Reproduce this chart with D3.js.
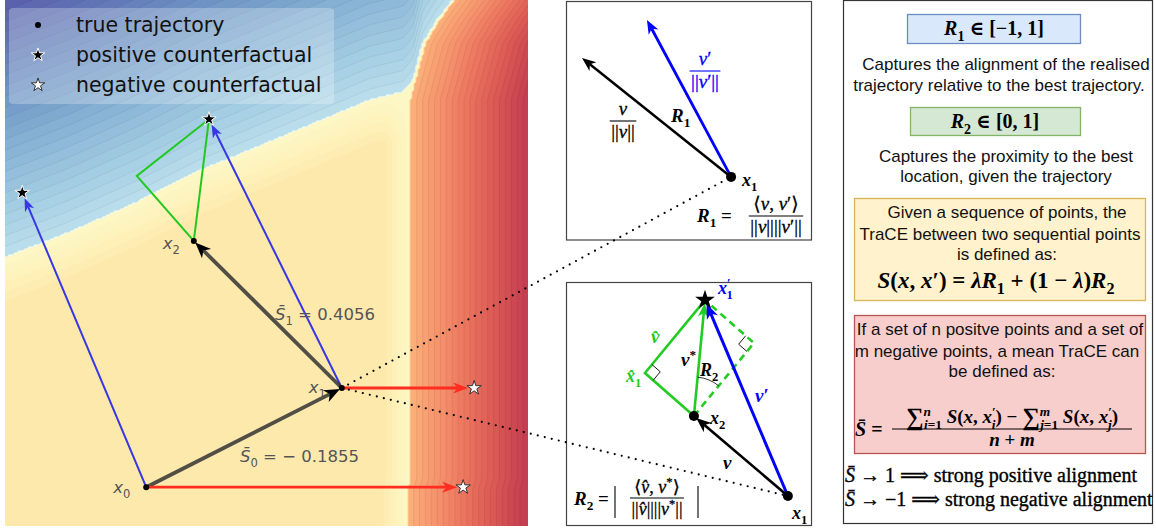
<!DOCTYPE html>
<html>
<head>
<meta charset="utf-8">
<script src="https://cdn.jsdelivr.net/npm/d3@7"></script>
<style>
  body { margin: 0; background: #fff; }
  svg { display: block; }
</style>
</head>
<body>
<svg width="1156" height="528"></svg>
<script>
// ---- data (left panel, data units 0..10) ----
var trajectory = [[2.70, 0.72], [6.44, 2.61], [3.61, 5.41]];
var trajectoryNames = ["0", "1", "2"];
var positiveCF = [[0.33, 6.33], [3.90, 7.73]];
var negativeCF = [[8.76, 0.72], [8.97, 2.61]];
var projection = [2.52, 6.65];
var meanTrace = [-0.1855, 0.4056];
var legendItems = ["true trajectory", "positive counterfactual", "negative counterfactual"];

// decision regions of the background (blue edge: [x, y], red edge: [y, x])
var blueEdge = [[0, 5.10], [1.19, 5.56], [2.52, 6.15], [3.73, 6.76], [4.36, 7.01], [6.50, 7.90],
                [6.98, 8.10], [7.61, 8.25], [7.80, 8.48], [7.99, 9.18], [8.26, 9.62], [8.55, 10.0]];
var redEdge = [[-0.1, 7.70], [0.67, 7.70], [0.90, 7.76], [8.10, 7.76], [8.25, 7.80],
               [8.48, 7.86], [9.18, 8.05], [9.62, 8.32], [10.0, 8.60]];

// ---- data (zoomed insets, units 0..10) ----
var topX1 = [6.71, 2.64];
var topV = [0.65, 7.62];
var topVPrime = [3.29, 9.21];
var botX1 = [9.02, 1.23];
var botX2 = [5.20, 4.51];
var botStar = [5.65, 9.26];
var botHat = [3.21, 6.27];

// ---- text of the right panel ----
var r1Lines = ["Captures the alignment of the realised", "trajectory relative to the best trajectory."];
var r2Lines = ["Captures the proximity to the best", "location, given the trajectory"];
var traceLines = ["Given a sequence of points, the", "TraCE between two sequential points", "is defined as:"];
var meanLines = ["If a set of n positve points and a set of", "m negative points, a mean TraCE can", "be defined as:"];

var serif = "'Liberation Serif', 'DejaVu Serif', serif";
var sans = "'Liberation Sans', Arial, sans-serif";
var mpl = "'DejaVu Sans', sans-serif";
var NORM = "||";

var svg = d3.select("svg");

var x = d3.scaleLinear().domain([0, 10]).range([5, 528]);
var y = d3.scaleLinear().domain([0, 10]).range([525, 0]);

var blueY = d3.scaleLinear().domain(blueEdge.map(d => d[0])).range(blueEdge.map(d => d[1])).clamp(true);
var redX = d3.scaleLinear().domain(redEdge.map(d => d[0])).range(redEdge.map(d => d[1])).clamp(true);

function field(dx, dy) {
  var xr = redX(dy);
  if (dx >= xr) return 0.45 + 0.5 * Math.min(1, (dx - xr) / 2.26);
  var yb = blueY(dx);
  if (dy >= yb) return -0.4 - 0.6 * Math.min(1, (dy - yb) / 4.9);
  var w = Math.min(1, (yb - dy) / 0.9) * Math.min(1, (xr - dx) / 0.5);
  return 0.03 + 0.13 * w;
}

// math text helper: parts = [text, kind, dx]; kind: i italic, s sub, p sup, L large
function mt(g, x0, y0, parts, o) {
  var t = g.append("text").attr("x", x0).attr("y", y0)
    .attr("font-family", o.font || serif).attr("font-size", o.size)
    .attr("fill", o.color || "#000").attr("text-anchor", o.anchor || "start");
  if (o.bold) t.attr("font-weight", "bold");
  if (o.heavy) t.attr("stroke", o.color || "#000").attr("stroke-width", o.heavy);
  var cur = 0;
  parts.forEach(function(p) {
    var k = p[1] || "", off = 0, fs = o.size;
    if (k.indexOf("s") >= 0) { off = o.size * 0.28; fs = o.size * 0.7; }
    if (k.indexOf("p") >= 0) { off = -o.size * 0.38; fs = o.size * 0.7; }
    if (k.indexOf("L") >= 0) { off = o.size * 0.08; fs = o.size * 1.3; }
    var s = t.append("tspan").text(p[0]).attr("dy", off - cur).attr("font-size", fs);
    if (p[2]) s.attr("dx", p[2]);
    if (k.indexOf("i") >= 0) s.attr("font-style", "italic");
    cur = off;
  });
  return t;
}

function frac(g, cx, yBar, num, den, o) {
  var oo = Object.assign({}, o, {anchor: "middle"});
  var a = mt(g, cx, yBar - o.size * 0.3, num, oo);
  var b = mt(g, cx, yBar + o.size * 0.92, den, oo);
  var w = Math.max(a.node().getComputedTextLength(), b.node().getComputedTextLength()) + 3;
  g.append("line").attr("x1", cx - w / 2).attr("x2", cx + w / 2)
    .attr("y1", yBar).attr("y2", yBar).attr("stroke", o.color || "#000").attr("stroke-width", 1.1);
}

function arrow(g, a, b, o) {
  var dx = b[0] - a[0], dy = b[1] - a[1], len = Math.hypot(dx, dy);
  var ux = dx / len, uy = dy / len, px = -uy, py = ux;
  var tip = [b[0] - ux * o.shrink, b[1] - uy * o.shrink];
  var L = o.head, W = o.width / 2;
  var notch = [tip[0] - ux * L * 0.72, tip[1] - uy * L * 0.72];
  g.append("line").attr("x1", a[0]).attr("y1", a[1]).attr("x2", notch[0]).attr("y2", notch[1])
    .attr("stroke", o.color).attr("stroke-width", o.lw).attr("stroke-opacity", o.op || 1);
  var pts = [tip, [tip[0] - ux * L + px * W, tip[1] - uy * L + py * W], notch,
             [tip[0] - ux * L - px * W, tip[1] - uy * L - py * W]];
  g.append("path").attr("d", "M" + pts.join("L") + "Z").attr("fill", o.headColor || o.color);
}

// ---------------- left panel ----------------
svg.append("defs").append("clipPath").attr("id", "clipL")
  .append("rect").attr("x", 5).attr("y", 0).attr("width", 523).attr("height", 526);

var gL = svg.append("g").attr("clip-path", "url(#clipL)");

var cell = 2, nx = 264, ny = 266;
var values = new Array(nx * ny);
for (var j = 0; j < ny; j++)
  for (var i = 0; i < nx; i++)
    values[j * nx + i] = field(x.invert(5 + i * cell), y.invert(j * cell));

var step = 0.025;
var thresholds = d3.range(-1, 1, step);
var contours = d3.contours().size([nx, ny]).thresholds(thresholds)(values);
var color = t => d3.interpolateRgb("#fff", d3.interpolateRdYlBu((1 - t) / 2))(0.8);
var path = d3.geoPath(d3.geoIdentity().scale(cell).translate([5 - cell / 2, -cell / 2]));
function showLine(t) { return t < -0.41 || t > 0.46; }

gL.selectAll("path.band").data(contours).join("path")
  .attr("class", "band")
  .attr("d", path)
  .attr("fill", d => color(d.value + step / 2))
  .attr("stroke", d => showLine(d.value) ? d3.color(color(d.value + step / 2)).darker(0.3) : "none")
  .attr("stroke-width", 0.6);

// legend
var leg = svg.append("g");
leg.append("rect").attr("x", 9).attr("y", 8).attr("width", 325).attr("height", 96).attr("rx", 4)
  .attr("fill", "#fff").attr("fill-opacity", 0.25);
legendItems.forEach(function(t, k) {
  leg.append("text").attr("x", 76).attr("y", 32 + 30 * k).attr("font-family", mpl)
    .attr("font-size", 20.5).attr("fill", "#111").text(t);
});
leg.append("circle").attr("cx", 38).attr("cy", 25).attr("r", 3).attr("fill", "#000");
leg.append("path").attr("d", d3.symbol(d3.symbolStar, 56)()).attr("transform", "translate(38,55)")
  .attr("fill", "#000").attr("stroke", "#fff").attr("stroke-width", 1);
leg.append("path").attr("d", d3.symbol(d3.symbolStar, 56)()).attr("transform", "translate(38,85)")
  .attr("fill", "#fff").attr("stroke", "#333").attr("stroke-width", 1);

var P = d => [x(d[0]), y(d[1])];
var gV = svg.append("g");

// counterfactual directions (blue)
positiveCF.forEach(function(p, k) {
  arrow(gV, P(trajectory[k]), P(p), {shrink: 6, head: 13, width: 10, color: "#3737e6", lw: 2});
});
// projection triangle (green)
gV.append("path")
  .attr("d", "M" + [P(trajectory[2]), P(positiveCF[1]), P(projection)].join("L") + "Z")
  .attr("fill", "none").attr("stroke", "#22c922").attr("stroke-width", 2);
// true trajectory steps
for (var k = 0; k < trajectory.length - 1; k++) {
  arrow(gV, P(trajectory[k]), P(trajectory[k + 1]), {shrink: 2, head: 16, width: 13,
    color: "#333", headColor: "#000", lw: 3.8, op: 0.85});
}
// negative counterfactuals (red)
negativeCF.forEach(function(p, k) {
  arrow(gV, P(trajectory[k]), P(p), {shrink: 6, head: 15, width: 11, color: "#ff2d1f", lw: 2.8});
});
gV.selectAll("circle.pt").data(trajectory).join("circle").attr("class", "pt")
  .attr("cx", d => x(d[0])).attr("cy", d => y(d[1])).attr("r", 3).attr("fill", "#000");
gV.selectAll("path.pos").data(positiveCF).join("path").attr("class", "pos")
  .attr("d", d3.symbol(d3.symbolStar, 64)())
  .attr("transform", d => "translate(" + P(d) + ")")
  .attr("fill", "#000").attr("stroke", "#fff").attr("stroke-width", 1);
gV.selectAll("path.neg").data(negativeCF).join("path").attr("class", "neg")
  .attr("d", d3.symbol(d3.symbolStar, 64)())
  .attr("transform", d => "translate(" + P(d) + ")")
  .attr("fill", "#fff").attr("stroke", "#333").attr("stroke-width", 1);

// point labels
var labelOffsets = [[-33, 6], [-33, 5], [-31, 8]];
trajectory.forEach(function(d, k) {
  mt(gV, x(d[0]) + labelOffsets[k][0], y(d[1]) + labelOffsets[k][1],
     [["x", "i"], [trajectoryNames[k], "s"]], {font: mpl, size: 16.5, color: "#555"});
});
var fmt = v => (v < 0 ? "\u2212 " : "") + Math.abs(v).toFixed(4);
mt(gV, 240, 462, [["S\u0304", "i"], ["0", "s"], [" = " + fmt(meanTrace[0]), ""]], {font: mpl, size: 16.5, color: "#555"});
mt(gV, 275, 320, [["S\u0304", "i"], ["1", "s"], [" = " + fmt(meanTrace[1]), ""]], {font: mpl, size: 16.5, color: "#555"});

// ---------------- insets ----------------
var ix = d3.scaleLinear().domain([0, 10]).range([566, 812]);
var iyT = d3.scaleLinear().domain([0, 10]).range([240, 1]);
var iyB = d3.scaleLinear().domain([0, 10]).range([526, 282]);
var PT = d => [ix(d[0]), iyT(d[1])];
var PB = d => [ix(d[0]), iyB(d[1])];

var gI = svg.append("g");
gI.append("rect").attr("x", 566.5).attr("y", 1.5).attr("width", 245).attr("height", 238.5)
  .attr("fill", "none").attr("stroke", "#444").attr("stroke-width", 1.2);
gI.append("rect").attr("x", 566.5).attr("y", 282.5).attr("width", 245).attr("height", 243)
  .attr("fill", "none").attr("stroke", "#444").attr("stroke-width", 1.2);

// dotted links from x1
[PT(topX1), PB(botX1)].forEach(function(q) {
  gI.append("line").attr("x1", x(trajectory[1][0])).attr("y1", y(trajectory[1][1]))
    .attr("x2", q[0]).attr("y2", q[1]).attr("stroke", "#000").attr("stroke-width", 2.2)
    .attr("stroke-linecap", "round").attr("stroke-dasharray", "0 7.2");
});

// top inset: R1
arrow(gI, PT(topX1), PT(topV), {shrink: 0, head: 14, width: 11, color: "#000", lw: 2.5});
arrow(gI, PT(topX1), PT(topVPrime), {shrink: 0, head: 14, width: 11, color: "#0000ff", lw: 2.8});
gI.append("circle").attr("cx", PT(topX1)[0]).attr("cy", PT(topX1)[1]).attr("r", 5).attr("fill", "#000");
var io = {size: 19, heavy: 0.3};
frac(gI, 623, 121, [["v", "i"]], [[NORM, ""], ["v", "i"], [NORM, ""]], io);
frac(gI, 705, 71, [["v", "i"], ["\u2032", ""]], [[NORM, ""], ["v", "i"], ["\u2032" + NORM, ""]], {size: 19, heavy: 0.3, color: "#0000ff"});
mt(gI, 671, 122, [["R", "i"], ["1", "s"]], {size: 19, bold: true});
mt(gI, 742, 186, [["x", "i"], ["1", "s"]], {size: 18, bold: true});
mt(gI, 697, 222, [["R", "i"], ["1", "s"], [" =", ""]], {size: 19, bold: true});
frac(gI, 776, 216, [["\u27e8", ""], ["v", "i"], [", ", ""], ["v", "i"], ["\u2032\u27e9", ""]],
     [[NORM, ""], ["v", "i"], [NORM + NORM, ""], ["v", "i"], ["\u2032" + NORM, ""]], io);

// bottom inset: R2
var x1b = PB(botX1), x2b = PB(botX2), stb = PB(botStar), hb = PB(botHat);
var corner = [x2b[0] + stb[0] - hb[0], x2b[1] + stb[1] - hb[1]];
function unit(a, b) { var dx = b[0] - a[0], dy = b[1] - a[1], l = Math.hypot(dx, dy); return [dx / l, dy / l]; }
function rightAngle(c, a, b, s) {
  var u = unit(c, a), v = unit(c, b);
  gI.append("path").attr("d", "M" + [c[0] + u[0] * s, c[1] + u[1] * s] + "L" +
      [c[0] + (u[0] + v[0]) * s, c[1] + (u[1] + v[1]) * s] + "L" + [c[0] + v[0] * s, c[1] + v[1] * s])
    .attr("fill", "none").attr("stroke", "#000").attr("stroke-width", 0.9);
}
gI.append("path").attr("d", "M" + [x2b, corner, stb].join("L"))
  .attr("fill", "none").attr("stroke", "#22cc22").attr("stroke-width", 2.6).attr("stroke-dasharray", "7 5");
gI.append("path").attr("d", "M" + [x2b, hb, stb].join("L"))
  .attr("fill", "none").attr("stroke", "#22cc22").attr("stroke-width", 2.6);
rightAngle(hb, x2b, stb, 11);
rightAngle(corner, x2b, stb, 11);
arrow(gI, x2b, stb, {shrink: 3, head: 14, width: 11, color: "#22cc22", lw: 2.6});
arrow(gI, x1b, stb, {shrink: 4, head: 15, width: 12, color: "#0000ff", lw: 3});
arrow(gI, x1b, x2b, {shrink: 3, head: 15, width: 12, color: "#000", lw: 2.6});
// angle arc
(function() {
  var r = 39, u = unit(x2b, stb), v = unit(x2b, corner);
  gI.append("path").attr("d", "M" + [x2b[0] + u[0] * r, x2b[1] + u[1] * r] + "A" + r + "," + r +
      " 0 0 1 " + [x2b[0] + v[0] * r, x2b[1] + v[1] * r])
    .attr("fill", "none").attr("stroke", "#000").attr("stroke-width", 0.8);
})();
gI.append("circle").attr("cx", x1b[0]).attr("cy", x1b[1]).attr("r", 5).attr("fill", "#000");
gI.append("circle").attr("cx", x2b[0]).attr("cy", x2b[1]).attr("r", 5).attr("fill", "#000");
gI.append("path").attr("d", d3.symbol(d3.symbolStar, 120)())
  .attr("transform", "translate(" + stb + ")").attr("fill", "#000");

mt(gI, 718, 294, [["x", "i"], ["\u2032", "p"], ["1", "s", -4]], {size: 18, bold: true, color: "#0000ff"});
mt(gI, 651, 343, [["v\u0302", "i"]], {size: 19, bold: true, color: "#22c922"});
mt(gI, 626, 382, [["x\u0302", "i"], ["1", "s"]], {size: 18, bold: true, color: "#22c922"});
mt(gI, 681, 366, [["v", "i"], ["*", "p"]], {size: 19, bold: true});
mt(gI, 700, 376, [["R", "i"], ["2", "s"]], {size: 18, bold: true});
mt(gI, 755, 402, [["v", "i"], ["\u2032", ""]], {size: 19, bold: true, color: "#0000ff"});
mt(gI, 710, 424, [["x", "i"], ["2", "s"]], {size: 18, bold: true});
mt(gI, 723, 469, [["v", "i"]], {size: 19, bold: true});
mt(gI, 792, 519, [["x", "i"], ["1", "s"]], {size: 18, bold: true});
mt(gI, 574, 505, [["R", "i"], ["2", "s"], [" =", ""]], {size: 19, bold: true});
[615, 698].forEach(function(bx) {
  gI.append("line").attr("x1", bx).attr("x2", bx).attr("y1", 486).attr("y2", 518)
    .attr("stroke", "#000").attr("stroke-width", 1.1);
});
frac(gI, 657, 498, [["\u27e8", ""], ["v\u0302", "i"], [", ", ""], ["v", "i"], ["*", "p"], ["\u27e9", ""]],
     [[NORM, ""], ["v\u0302", "i"], [NORM + NORM, ""], ["v", "i"], ["*", "p"], [NORM, ""]], {size: 18, heavy: 0.3});

// ---------------- right panel ----------------
var gR = svg.append("g");
gR.append("rect").attr("x", 843.5).attr("y", 0.5).attr("width", 309).attr("height", 523)
  .attr("fill", "none").attr("stroke", "#333").attr("stroke-width", 1.2);
function box(x0, y0, w, h, fill, stroke) {
  gR.append("rect").attr("x", x0 + 0.5).attr("y", y0 + 0.5).attr("width", w).attr("height", h)
    .attr("fill", fill).attr("stroke", stroke).attr("stroke-width", 1.3);
}
function lines(arr, centers, ys) {
  arr.forEach(function(t, k) {
    gR.append("text").attr("x", centers[k]).attr("y", ys[k]).attr("text-anchor", "middle")
      .attr("font-family", sans).attr("font-size", 17).attr("fill", "#111").text(t);
  });
}
box(907, 14, 173, 29, "#dae8fc", "#6c8ebf");
mt(gR, 994, 35, [["R", "i"], ["1", "s"], [" \u2208 [\u22121, 1]", ""]], {size: 20, anchor: "middle", bold: true});
lines(r1Lines, [1006, 999], [70, 91]);
box(910, 107, 170, 28, "#d5e8d4", "#82b366");
mt(gR, 995, 128, [["R", "i"], ["2", "s"], [" \u2208 [0, 1]", ""]], {size: 20, anchor: "middle", bold: true});
lines(r2Lines, [1006, 1006], [162, 182]);
box(854, 198, 291, 102, "#fff2cc", "#d6b656");
lines(traceLines, [1007, 1000, 1007], [218, 240, 260]);
mt(gR, 996, 288, [["S", "i"], ["(", ""], ["x", "i"], [", ", ""], ["x", "i"], ["\u2032) = ", ""], ["\u03bb", "i"],
   ["R", "i"], ["1", "s"], [" + (1 \u2212 ", ""], ["\u03bb", "i"], [")", ""], ["R", "i"], ["2", "s"]],
   {size: 23, anchor: "middle", bold: true});
box(854, 315, 291, 138, "#f8cecc", "#b85450");
lines(meanLines, [1000, 997, 1002], [335, 357, 377]);
mt(gR, 855, 436, [["S\u0304", "i"], [" =", ""]], {size: 20, bold: true});
frac(gR, 1012, 429,
  [["\u2211", "L"], ["n", "pi"], ["i", "si", -7], ["=1", "s"], [" S", "i"], ["(", ""], ["x", "i"], [", ", ""], ["x", "i"], ["\u2032", "p"], ["i", "si", -4], [") \u2212 ", ""],
   ["\u2211", "L"], ["m", "pi"], ["j", "si", -10], ["=1", "s"], [" S", "i"], ["(", ""], ["x", "i"], [", ", ""], ["x", "i"], ["\u2032", "p"], ["j", "si", -4], [")", ""]],
  [["n", "i"], [" + ", ""], ["m", "i"]], {size: 19, bold: true});
mt(gR, 845, 482, [["S\u0304", "i"], [" \u2192 1 \u27f9 ", ""], [" strong positive alignment", ""]], {size: 20, heavy: 0.35});
mt(gR, 845, 506, [["S\u0304", "i"], [" \u2192 \u22121 \u27f9 ", ""], [" strong negative alignment", ""]], {size: 20, heavy: 0.35});
</script>
</body>
</html>
